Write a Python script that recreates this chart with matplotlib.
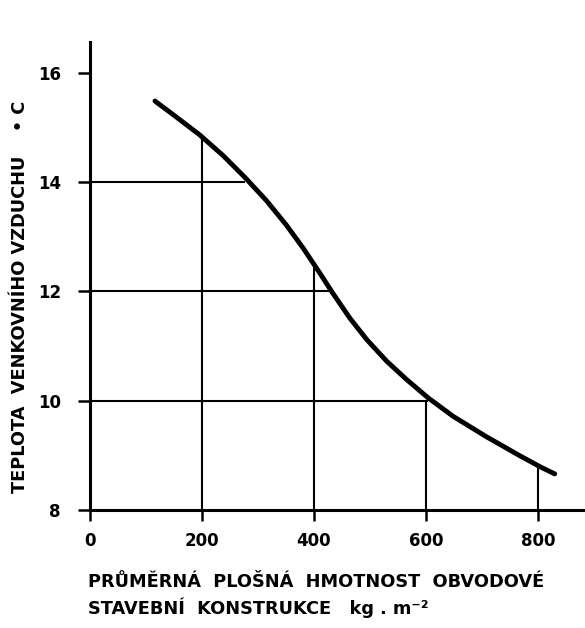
import matplotlib
matplotlib.use("Agg")
import matplotlib.pyplot as plt

# curve (mass kg/m2 -> outdoor temperature C)
mass = [116, 150, 196, 238, 277, 315, 350, 380, 410, 432, 464, 494, 530, 565, 604,
        649, 708, 768, 804, 830]
temp = [15.48, 15.22, 14.86, 14.48, 14.08, 13.66, 13.22, 12.80, 12.34, 11.99, 11.51,
        11.12, 10.72, 10.39, 10.05, 9.71, 9.34, 8.99, 8.79, 8.66]

# guide lines
h_levels = [14, 12, 10]
h_ends = [277, 432, 604]
v_masses = [200, 400, 600, 800]
v_tops = [14.85, 12.5, 10.0, 8.79]

x_ticks = [0, 200, 400, 600, 800]
y_ticks = [8, 10, 12, 14, 16]

plt.rcParams['font.family'] = ['DejaVu Sans']
plt.rcParams['font.weight'] = 'bold'

fig = plt.figure(figsize=(5.85, 6.28), dpi=100)
ax = fig.add_axes([90 / 585, 1 - 510 / 628, 1 - 90 / 585, (510 - 42) / 628])

for lev, end in zip(h_levels, h_ends):
    ax.plot([0, end], [lev, lev], color='black', lw=1.5, solid_capstyle='butt')
for m, top in zip(v_masses, v_tops):
    ax.plot([m, m], [8, top], color='black', lw=1.5, solid_capstyle='butt')

ax.plot(mass, temp, color='black', lw=3.5, solid_capstyle='round', solid_joinstyle='round')

ax.set_xlim(0, 884)
ax.set_ylim(8, 16.56)
ax.set_xticks(x_ticks)
ax.set_yticks(y_ticks)
ax.tick_params(axis='y', direction='out', length=9, width=1.8, labelsize=12, pad=12)
ax.tick_params(axis='x', direction='out', length=8, width=1.8, labelsize=12, pad=8)
for lab in ax.get_xticklabels() + ax.get_yticklabels():
    lab.set_fontweight('bold')

for s in ['top', 'right']:
    ax.spines[s].set_visible(False)
for s in ['left', 'bottom']:
    ax.spines[s].set_linewidth(2.2)

fig.text(20 / 585, 1 - 297 / 628, 'TEPLOTA  VENKOVNÍHO VZDUCHU    • C', rotation=90,
         ha='center', va='center', fontsize=12.8, fontweight='bold')
fig.text(88 / 585, 1 - 582 / 628, 'PRŮMĚRNÁ  PLOŠNÁ  HMOTNOST  OBVODOVÉ',
         ha='left', va='center', fontsize=12.8, fontweight='bold')
fig.text(88 / 585, 1 - 608 / 628, 'STAVEBNÍ  KONSTRUKCE   kg . m⁻²',
         ha='left', va='center', fontsize=12.8, fontweight='bold')

fig.savefig('out.png', dpi=100)
